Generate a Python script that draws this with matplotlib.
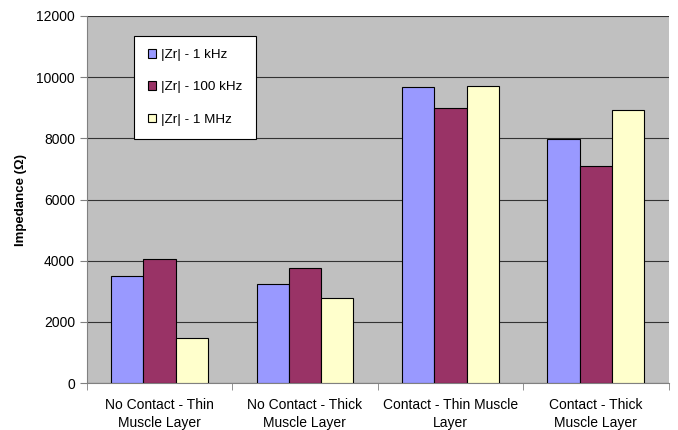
import numpy as np
import matplotlib.pyplot as plt

plt.rcParams['font.family'] = ['Liberation Sans', 'DejaVu Sans']

# --- data ---
categories = ['No Contact - Thin\nMuscle Layer', 'No Contact - Thick\nMuscle Layer',
              'Contact - Thin Muscle\nLayer', 'Contact - Thick\nMuscle Layer']
zr_1khz = [3500, 3240, 9680, 7980]
zr_100khz = [4060, 3760, 8990, 7090]
zr_1mhz = [1470, 2780, 9710, 8920]
series_names = ['|Zr| - 1 kHz', '|Zr| - 100 kHz', '|Zr| - 1 MHz']
colors = ['#9999ff', '#993366', '#ffffcc']

fig = plt.figure(figsize=(6.78, 4.30), dpi=100)
ax = fig.add_axes([0.128, 0.109, 0.858, 0.854])
ax.set_facecolor('#c0c0c0')

x = np.arange(len(categories))
w = 0.222
for i, (vals, name, c) in enumerate(zip([zr_1khz, zr_100khz, zr_1mhz], series_names, colors)):
    ax.bar(x + (i - 1) * w, vals, w, color=c, edgecolor='black', linewidth=0.8,
           label=name, zorder=3)

ax.set_xlim(-0.5, len(categories) - 0.5)
ax.set_ylim(0, 12000)
ax.set_yticks(range(0, 12001, 2000))
ax.yaxis.grid(True, color='#333333', linewidth=0.8, zorder=0)

# category labels centred, ticks on the boundaries
ax.set_xticks(x)
ax.set_xticklabels(categories, fontsize=10, linespacing=1.35)
ax.tick_params(axis='x', length=0, pad=11)
ax.set_xticks(np.arange(-0.5, len(categories)), minor=True)
ax.tick_params(axis='x', which='minor', length=5, color='#808080', direction='out')
ax.tick_params(axis='y', labelsize=10, length=5, color='#808080', direction='out')

for s in ['top', 'right']:
    ax.spines[s].set_visible(False)
for s in ['left', 'bottom']:
    ax.spines[s].set_color('#808080')

ax.set_ylabel('Impedance (Ω)', fontsize=9.5, fontweight='bold', labelpad=7)

leg = ax.legend(loc='upper left', bbox_to_anchor=(0.082, 0.946), borderaxespad=0,
                fontsize=9.7, frameon=True, fancybox=False, edgecolor='black',
                framealpha=1, handlelength=0.6, handleheight=0.6, handletextpad=0.4,
                labelspacing=1.5, borderpad=1.0)
leg.get_frame().set_linewidth(0.8)

fig.savefig('out.png', dpi=100)
